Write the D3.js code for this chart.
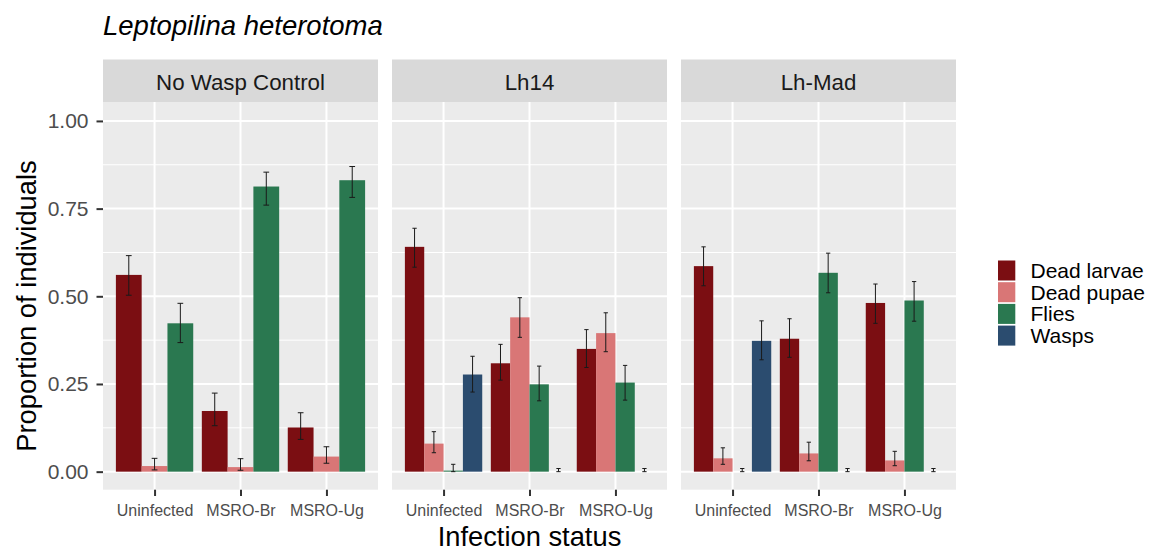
<!DOCTYPE html>
<html>
<head>
<meta charset="utf-8">
<script src="https://cdn.jsdelivr.net/npm/d3@7"></script>
<style>
  body { margin: 0; background: #fff; }
  svg { display: block; font-family: "Liberation Sans", Arial, sans-serif; }
</style>
</head>
<body>
<svg id="chart" width="1160" height="551"></svg>
<script>
// ---------- data ----------
const panels = ["No Wasp Control", "Lh14", "Lh-Mad"];
const categories = ["Uninfected", "MSRO-Br", "MSRO-Ug"];
const series = ["Dead larvae", "Dead pupae", "Flies", "Wasps"];
const seriesColors = ["#7B0E12", "#D97676", "#2A7850", "#2B4C6F"];
const yTicks = [0, 0.25, 0.5, 0.75, 1.0];
const yTickLabels = ["0.00", "0.25", "0.50", "0.75", "1.00"];

// values ordered panel by panel, category by category (null = absent)
const deadLarvae   = [0.561, 0.173, 0.126,  0.641, 0.309, 0.350,  0.586, 0.379, 0.481];
const deadLarvaeLo = [0.503, 0.131, 0.092,  0.583, 0.261, 0.297,  0.530, 0.326, 0.423];
const deadLarvaeHi = [0.616, 0.224, 0.168,  0.694, 0.363, 0.405,  0.641, 0.436, 0.535];

const deadPupae    = [0.016, 0.013, 0.043,  0.080, 0.440, 0.395,  0.038, 0.052, 0.032];
const deadPupaeLo  = [0.005, 0.004, 0.024,  0.054, 0.383, 0.342,  0.021, 0.031, 0.017];
const deadPupaeHi  = [0.038, 0.037, 0.071,  0.114, 0.496, 0.453,  0.068, 0.084, 0.058];

const flies        = [0.423, 0.813, 0.831,  0.003, 0.249, 0.254,  0.000, 0.567, 0.488];
const fliesLo      = [0.368, 0.760, 0.782,  0.000, 0.202, 0.204,  0.000, 0.510, 0.429];
const fliesHi      = [0.480, 0.854, 0.870,  0.021, 0.301, 0.303,  0.009, 0.623, 0.542];

const wasps        = [null, null, null,  0.277, 0.000, 0.000,  0.373, 0.000, 0.000];
const waspsLo      = [null, null, null,  0.227, 0.000, 0.000,  0.319, 0.000, 0.000];
const waspsHi      = [null, null, null,  0.329, 0.009, 0.009,  0.430, 0.009, 0.009];

const seriesValues = [deadLarvae, deadPupae, flies, wasps];
const seriesLo = [deadLarvaeLo, deadPupaeLo, fliesLo, waspsLo];
const seriesHi = [deadLarvaeHi, deadPupaeHi, fliesHi, waspsHi];

// ---------- layout ----------
const svg = d3.select("#chart");
const panelLeft = 103, panelW = 275, panelGap = 14;
const stripTop = 59.5, stripBottom = 102, panelBottom = 489.7;

const y = d3.scaleLinear().domain([-0.05, 1.05]).range([489.2, 103.4]);
const color = d3.scaleOrdinal().domain(series).range(seriesColors);
const minorTicks = [0.125, 0.375, 0.625, 0.875];

// Title
svg.append("text").attr("x", 103).attr("y", 35)
  .attr("font-size", 27.5).attr("font-style", "italic").attr("fill", "#000")
  .text("Leptopilina heterotoma");

panels.forEach((pname, pi) => {
  const x0 = panelLeft + pi * (panelW + panelGap);
  const x = d3.scalePoint().domain(categories).range([x0, x0 + panelW]).padding(0.6);
  const step = x.step();
  const g = svg.append("g");

  // strip
  g.append("rect").attr("x", x0).attr("y", stripTop).attr("width", panelW)
    .attr("height", stripBottom - stripTop).attr("fill", "#D9D9D9");
  g.append("text").attr("x", x0 + panelW / 2).attr("y", 89.5)
    .attr("text-anchor", "middle").attr("font-size", 22.3).attr("fill", "#1A1A1A")
    .text(pname);

  // panel bg
  g.append("rect").attr("x", x0).attr("y", stripBottom).attr("width", panelW)
    .attr("height", panelBottom - stripBottom).attr("fill", "#EBEBEB");

  // grid
  g.selectAll(".minor").data(minorTicks).join("line")
    .attr("x1", x0).attr("x2", x0 + panelW)
    .attr("y1", d => y(d)).attr("y2", d => y(d))
    .attr("stroke", "#fff").attr("stroke-width", 1);
  g.selectAll(".major").data(yTicks).join("line")
    .attr("x1", x0).attr("x2", x0 + panelW)
    .attr("y1", d => y(d)).attr("y2", d => y(d))
    .attr("stroke", "#fff").attr("stroke-width", 2);
  g.selectAll(".vmajor").data(categories).join("line")
    .attr("x1", d => x(d)).attr("x2", d => x(d))
    .attr("y1", stripBottom).attr("y2", panelBottom)
    .attr("stroke", "#fff").attr("stroke-width", 2);

  // bars
  categories.forEach((cat, ci) => {
    const idx = pi * categories.length + ci;
    const present = series.filter((s, si) => seriesValues[si][idx] !== null);
    const sub = d3.scaleBand().domain(present)
      .range([x(cat) - 0.45 * step, x(cat) + 0.45 * step]).padding(0);
    const bw = sub.bandwidth();
    const capW = 0.2 * step / present.length;
    present.forEach(s => {
      const si = series.indexOf(s);
      const v = seriesValues[si][idx];
      const lo = seriesLo[si][idx], hi = seriesHi[si][idx];
      const bx = sub(s);
      const h = y(0) - y(v);
      if (v > 0) {
        g.append("rect").attr("x", bx).attr("width", bw)
          .attr("y", y(v) - (h < 1 ? 1 - h : 0)).attr("height", Math.max(h, 1))
          .attr("fill", color(s));
      }
      const cx = bx + bw / 2;
      const eg = g.append("g").attr("stroke", "#1a1a1a").attr("stroke-width", 1);
      eg.append("line").attr("x1", cx).attr("x2", cx).attr("y1", y(lo)).attr("y2", y(hi));
      eg.append("line").attr("x1", cx - capW / 2).attr("x2", cx + capW / 2).attr("y1", y(lo)).attr("y2", y(lo));
      eg.append("line").attr("x1", cx - capW / 2).attr("x2", cx + capW / 2).attr("y1", y(hi)).attr("y2", y(hi));
    });
  });

  // x axis
  const xa = g.append("g").attr("transform", `translate(0,${panelBottom})`)
    .call(d3.axisBottom(x).tickSize(6.3).tickPadding(8.5));
  xa.select(".domain").remove();
  xa.selectAll(".tick line").attr("stroke", "#333").attr("stroke-width", 2);
  xa.selectAll(".tick text").attr("font-size", 16).attr("fill", "#4D4D4D")
    .attr("font-family", "Liberation Sans, Arial, sans-serif").attr("dy", "0.71em");
});

// y axis
const ya = svg.append("g").attr("transform", `translate(${panelLeft},0)`)
  .call(d3.axisLeft(y).tickValues(yTicks).tickFormat((d, i) => yTickLabels[i]).tickSize(6.5).tickPadding(8));
ya.select(".domain").remove();
ya.selectAll(".tick line").attr("stroke", "#333").attr("stroke-width", 2);
ya.selectAll(".tick text").attr("font-size", 21).attr("fill", "#4D4D4D")
  .attr("font-family", "Liberation Sans, Arial, sans-serif");

// axis titles
svg.append("text").attr("transform", "translate(36,306) rotate(-90)")
  .attr("text-anchor", "middle").attr("font-size", 27.3).attr("fill", "#000")
  .text("Proportion of individuals");
svg.append("text").attr("x", 529.5).attr("y", 546)
  .attr("text-anchor", "middle").attr("font-size", 27.3).attr("fill", "#000")
  .text("Infection status");

// legend
const lg = svg.append("g");
series.forEach((s, i) => {
  const yy = 260.5 + i * 21.7;
  lg.append("rect").attr("x", 998).attr("y", yy).attr("width", 17.3).attr("height", 20)
    .attr("fill", color(s));
  lg.append("text").attr("x", 1030.5).attr("y", yy + 17.5)
    .attr("font-size", 21).attr("fill", "#000").text(s);
});
</script>
</body>
</html>
